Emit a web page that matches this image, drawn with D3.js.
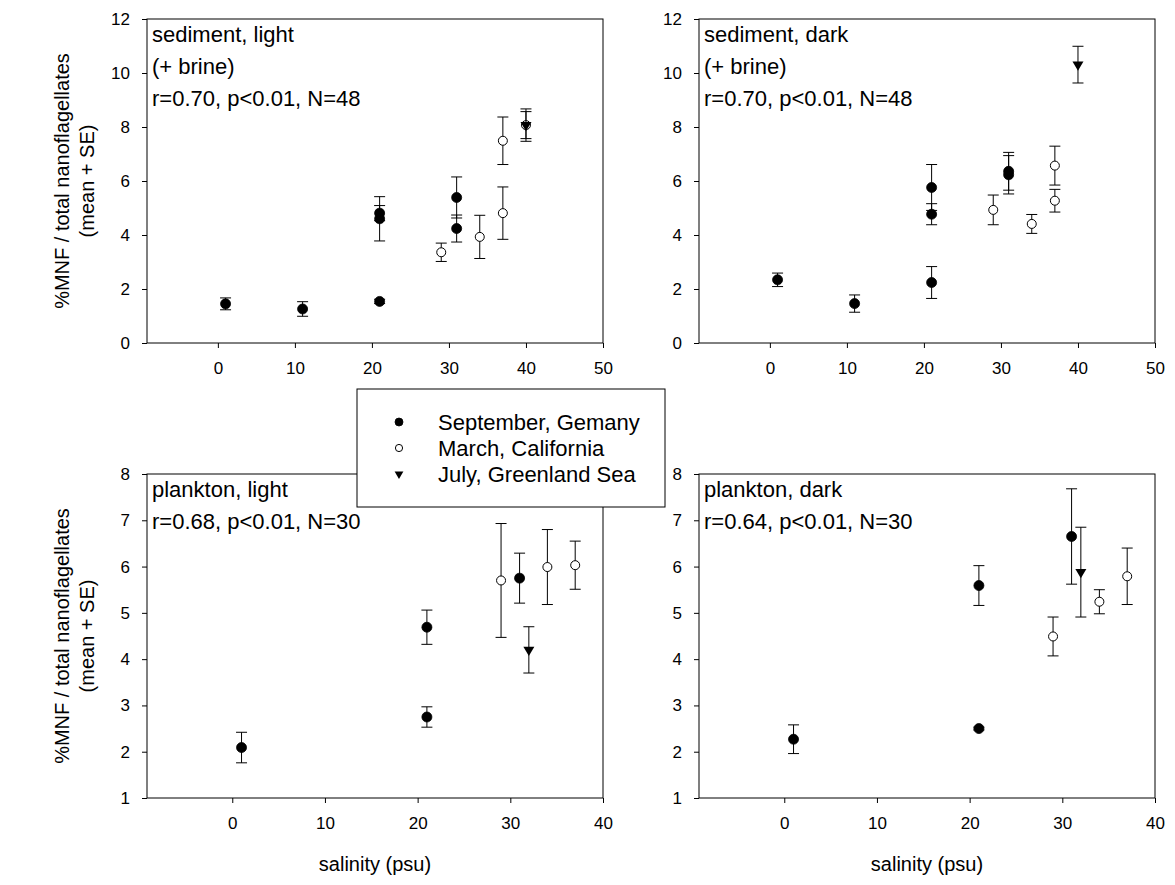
<!DOCTYPE html>
<html>
<head>
<meta charset="utf-8">
<script src="https://cdn.jsdelivr.net/npm/d3@7"></script>
<style>
  html, body { margin: 0; padding: 0; background: #fff; }
  svg { display: block; font-family: Arial, "Liberation Sans", sans-serif; }
</style>
</head>
<body>
<svg id="chart" width="1175" height="885"></svg>
<script>
// ---------------- DATA ----------------
const seriesNames = ["September, Gemany", "March, California", "July, Greenland Sea"];

// sediment, light (+ brine)
const sedLightSepX  = [1, 11, 21, 21, 21, 31, 31];
const sedLightSepY  = [1.45, 1.26, 1.54, 4.81, 4.60, 5.39, 4.24];
const sedLightSepSE = [0.22, 0.27, 0.08, 0.28, 0.82, 0.76, 0.50];
const sedLightMarX  = [29, 34, 37, 37, 40];
const sedLightMarY  = [3.36, 3.93, 7.49, 4.81, 8.07];
const sedLightMarSE = [0.34, 0.80, 0.88, 0.97, 0.50];
const sedLightJulX  = [40];
const sedLightJulY  = [8.07];
const sedLightJulSE = [0.60];

// sediment, dark (+ brine)
const sedDarkSepX  = [1, 11, 21, 21, 21, 31, 31];
const sedDarkSepY  = [2.34, 1.46, 5.76, 4.77, 2.24, 6.36, 6.23];
const sedDarkSepSE = [0.25, 0.32, 0.85, 0.39, 0.59, 0.70, 0.71];
const sedDarkMarX  = [29, 34, 37, 37];
const sedDarkMarY  = [4.93, 4.41, 6.57, 5.27];
const sedDarkMarSE = [0.55, 0.35, 0.72, 0.42];
const sedDarkJulX  = [40];
const sedDarkJulY  = [10.31];
const sedDarkJulSE = [0.68];

// plankton, light
const plLightSepX  = [1, 21, 21, 31];
const plLightSepY  = [2.09, 4.69, 2.75, 5.75];
const plLightSepSE = [0.33, 0.37, 0.22, 0.54];
const plLightMarX  = [29, 34, 37];
const plLightMarY  = [5.70, 5.99, 6.03];
const plLightMarSE = [1.23, 0.81, 0.52];
const plLightJulX  = [32];
const plLightJulY  = [4.20];
const plLightJulSE = [0.50];

// plankton, dark
const plDarkSepX  = [1, 21, 21, 31];
const plDarkSepY  = [2.27, 5.59, 2.50, 6.65];
const plDarkSepSE = [0.31, 0.43, 0.03, 1.03];
const plDarkMarX  = [29, 34, 37];
const plDarkMarY  = [4.49, 5.24, 5.79];
const plDarkMarSE = [0.42, 0.26, 0.61];
const plDarkJulX  = [32];
const plDarkJulY  = [5.88];
const plDarkJulSE = [0.97];

// ticks
const sedXTicks = [0, 10, 20, 30, 40, 50];
const plXTicks  = [0, 10, 20, 30, 40];
const sedYTicks = [0, 2, 4, 6, 8, 10, 12];
const plYTicks  = [1, 2, 3, 4, 5, 6, 7, 8];
const sedXDomain = [-9.2, 50];
const plXDomain  = [-9.2, 40];
const sedYDomain = [0, 12];
const plYDomain  = [1, 8];

// annotation texts
const sedLightText = ["sediment, light", "(+ brine)", "r=0.70, p<0.01, N=48"];
const sedDarkText  = ["sediment, dark", "(+ brine)", "r=0.70, p<0.01, N=48"];
const plLightText  = ["plankton, light", "r=0.68, p<0.01, N=30"];
const plDarkText   = ["plankton, dark", "r=0.64, p<0.01, N=30"];

const yTitle1 = "%MNF / total nanoflagellates";
const yTitle2 = "(mean + SE)";
const xTitle  = "salinity (psu)";

// ---------------- BUILD ----------------
function zipSeries(xs, ys, ses) { return xs.map((x, i) => ({x, y: ys[i], se: ses[i]})); }

const panels = [
  { left: 147, top: 19, w: 456, h: 324, xd: sedXDomain, yd: sedYDomain, xt: sedXTicks, yt: sedYTicks,
    text: sedLightText, yTitle: true, xTitle: false,
    series: [zipSeries(sedLightSepX, sedLightSepY, sedLightSepSE),
             zipSeries(sedLightMarX, sedLightMarY, sedLightMarSE),
             zipSeries(sedLightJulX, sedLightJulY, sedLightJulSE)] },
  { left: 699, top: 19, w: 456, h: 324, xd: sedXDomain, yd: sedYDomain, xt: sedXTicks, yt: sedYTicks,
    text: sedDarkText, yTitle: false, xTitle: false,
    series: [zipSeries(sedDarkSepX, sedDarkSepY, sedDarkSepSE),
             zipSeries(sedDarkMarX, sedDarkMarY, sedDarkMarSE),
             zipSeries(sedDarkJulX, sedDarkJulY, sedDarkJulSE)] },
  { left: 147, top: 474, w: 456, h: 324, xd: plXDomain, yd: plYDomain, xt: plXTicks, yt: plYTicks,
    text: plLightText, yTitle: true, xTitle: true,
    series: [zipSeries(plLightSepX, plLightSepY, plLightSepSE),
             zipSeries(plLightMarX, plLightMarY, plLightMarSE),
             zipSeries(plLightJulX, plLightJulY, plLightJulSE)] },
  { left: 699, top: 474, w: 456, h: 324, xd: plXDomain, yd: plYDomain, xt: plXTicks, yt: plYTicks,
    text: plDarkText, yTitle: false, xTitle: true,
    series: [zipSeries(plDarkSepX, plDarkSepY, plDarkSepSE),
             zipSeries(plDarkMarX, plDarkMarY, plDarkMarSE),
             zipSeries(plDarkJulX, plDarkJulY, plDarkJulSE)] }
];

const svg = d3.select("#chart");

function triPath(w) {
  const h = w * 0.85;
  return `M${-w/2},${-h/3}L${w/2},${-h/3}L0,${2*h/3}Z`;
}

function drawMarker(g, type, cx, cy, scale) {
  const s = scale || 1;
  if (type === 0) {
    g.append("circle").attr("cx", cx).attr("cy", cy).attr("r", 5 * s)
      .attr("fill", "#000").attr("stroke", "#000").attr("stroke-width", 0.8);
  } else if (type === 1) {
    g.append("circle").attr("cx", cx).attr("cy", cy).attr("r", 4.5 * s)
      .attr("fill", "#fff").attr("stroke", "#000").attr("stroke-width", 1);
  } else {
    g.append("path").attr("d", triPath(11 * s)).attr("transform", `translate(${cx},${cy})`)
      .attr("fill", "#000");
  }
}

panels.forEach(p => {
  const x = d3.scaleLinear().domain(p.xd).range([p.left, p.left + p.w]);
  const y = d3.scaleLinear().domain(p.yd).range([p.top + p.h, p.top]);
  const g = svg.append("g");

  // axes
  const ax = g.append("g").attr("transform", `translate(0,${p.top + p.h})`)
    .call(d3.axisBottom(x).tickValues(p.xt).tickSizeInner(5).tickSizeOuter(0).tickPadding(14)
      .tickFormat(d3.format("d")));
  const ay = g.append("g").attr("transform", `translate(${p.left},0)`)
    .call(d3.axisLeft(y).tickValues(p.yt).tickSizeInner(5).tickSizeOuter(0).tickPadding(12)
      .tickFormat(d3.format("d")));
  [ax, ay].forEach(a => {
    a.selectAll("text").attr("font-size", 17).attr("fill", "#000")
      .attr("font-family", "Arial, 'Liberation Sans', sans-serif");
    a.selectAll("line").attr("stroke", "#000");
    a.select(".domain").remove();
  });

  // frame
  g.append("rect").attr("x", p.left).attr("y", p.top).attr("width", p.w).attr("height", p.h)
    .attr("fill", "none").attr("stroke", "#000").attr("stroke-width", 1);

  // series
  p.series.forEach((ser, si) => {
    const sg = g.append("g");
    ser.forEach(d => {
      const cx = x(d.x);
      const y1 = y(d.y + d.se), y0 = y(d.y - d.se);
      sg.append("line").attr("x1", cx).attr("x2", cx).attr("y1", y1).attr("y2", y0)
        .attr("stroke", "#000").attr("stroke-width", 1);
      [y1, y0].forEach(yy => sg.append("line").attr("x1", cx - 5.5).attr("x2", cx + 5.5)
        .attr("y1", yy).attr("y2", yy).attr("stroke", "#000").attr("stroke-width", 1));
    });
    ser.forEach(d => drawMarker(sg, si, x(d.x), y(d.y)));
  });

  // annotation
  p.text.forEach((t, i) => {
    g.append("text").attr("x", p.left + 5).attr("y", p.top + 23 + i * 32)
      .attr("font-size", 22).attr("fill", "#000").text(t);
  });

  if (p.yTitle) {
    const cy = p.top + p.h / 2;
    g.append("text").attr("transform", `translate(62,${cy}) rotate(-90)`)
      .attr("text-anchor", "middle").attr("dy", "0.35em").attr("font-size", 20).text(yTitle1);
    g.append("text").attr("transform", `translate(87,${cy}) rotate(-90)`)
      .attr("text-anchor", "middle").attr("dy", "0.35em").attr("font-size", 20).text(yTitle2);
  }
  if (p.xTitle) {
    g.append("text").attr("x", p.left + p.w / 2).attr("y", 871)
      .attr("text-anchor", "middle").attr("font-size", 20).text(xTitle);
  }
});

// legend
const lg = svg.append("g");
lg.append("rect").attr("x", 357).attr("y", 389).attr("width", 308).attr("height", 118)
  .attr("fill", "#fff").attr("stroke", "#000").attr("stroke-width", 1);
const legendY = [422, 448, 474];
seriesNames.forEach((name, i) => {
  drawMarker(lg, i, 399, legendY[i], 0.8);
  lg.append("text").attr("x", 438).attr("y", legendY[i] + 8).attr("font-size", 22).text(name);
});
</script>
</body>
</html>
